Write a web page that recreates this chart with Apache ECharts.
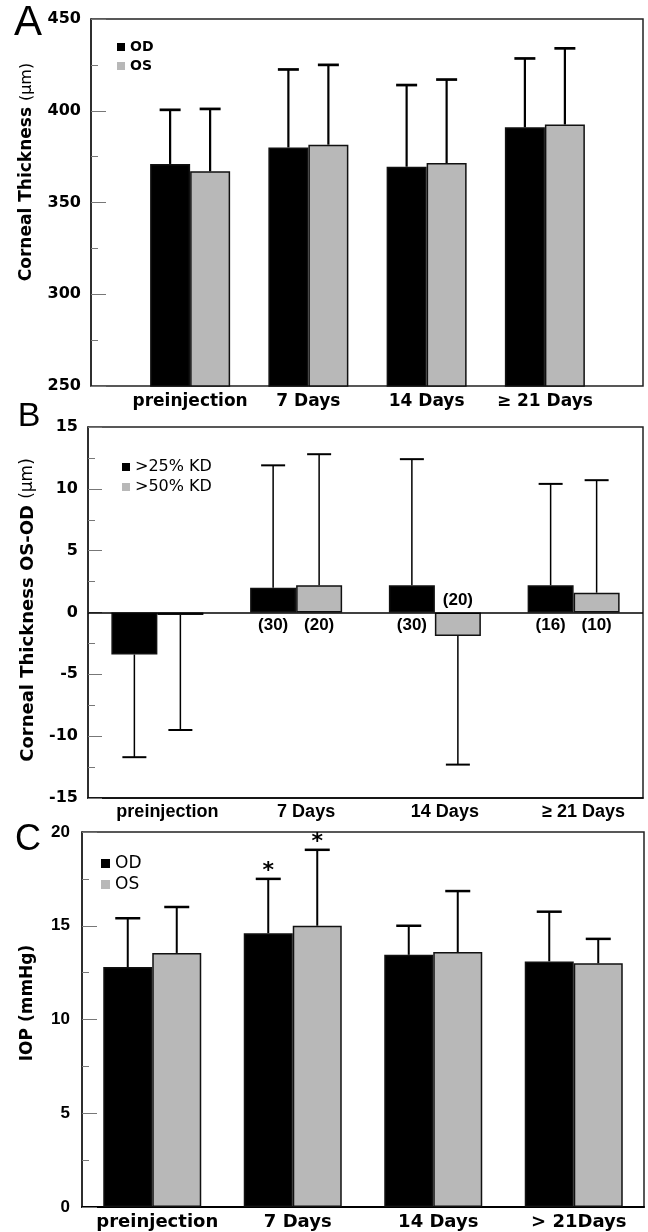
<!DOCTYPE html>
<html><head><meta charset="utf-8">
<script src="https://cdn.jsdelivr.net/npm/echarts@6/dist/echarts.min.js"></script>
<style>html,body{margin:0;padding:0;background:#fff}#c{width:648px;height:1232px}</style>
</head><body><div id="c"></div>
<script>
// ---------- Panel A : corneal thickness ----------
const catsA = ['preinjection', '7 Days', '14 Days', '≥ 21 Days'];
const odA = [371, 380, 369.5, 391];
const osA = [367, 381.5, 371.5, 392.5];
const odA_sd = [29.5, 42.5, 44.5, 37.5];
const osA_sd = [34, 43.5, 45.5, 41.5];
const ticksA = {min: 250, max: 450, interval: 50};

// ---------- Panel B : OS-OD difference ----------
const catsB = ['preinjection', '7 Days', '14 Days', '≥ 21 Days'];
const kd25B = [-3.4, 2.0, 2.2, 2.2];
const kd50B = [-0.2, 2.2, -1.9, 1.6];
const kd25B_sd = [8.3, 9.9, 10.2, 8.2];
const kd50B_sd = [9.3, 10.6, 10.4, 9.1];
const kd25B_n = [null, 30, 30, 16];
const kd50B_n = [null, 20, 20, 10];
const ticksB = {min: -15, max: 15, interval: 5};

// ---------- Panel C : IOP ----------
const catsC = ['preinjection', '7 Days', '14 Days', '> 21Days'];
const odC = [12.8, 14.6, 13.45, 13.1];
const osC = [13.55, 15.0, 13.6, 13.0];
const odC_sd = [2.6, 2.9, 1.55, 2.65];
const osC_sd = [2.45, 4.05, 3.25, 1.3];
const odC_sig = [false, true, false, false];
const osC_sig = [false, true, false, false];
const ticksC = {min: 0, max: 20, interval: 5};

const BLACK = '#000000', GREY = '#b8b8b8';
const DJ = '"DejaVu Sans"', LS = '"Liberation Sans"';

function yAxis(gi, t, show, font, labelSize, tickLen, margin) {
  return {
    type: 'value', gridIndex: gi, min: t.min, max: t.max, interval: t.interval, show: show,
    axisLine: {show: true, lineStyle: {color: '#222', width: 1.5}},
    axisTick: {show: true, inside: true, length: tickLen, lineStyle: {color: '#777', width: 1}},
    minorTick: {show: true, splitNumber: 2, length: 7, lineStyle: {color: '#777', width: 1}},
    splitLine: {show: false}, minorSplitLine: {show: false},
    axisLabel: {show: true, margin: margin, color: '#000', fontFamily: font, fontWeight: 'bold', fontSize: labelSize}
  };
}
function xAxis(gi, cats, show, font, size, margin, lineW, pad) {
  return {
    type: 'category', gridIndex: gi, data: cats, show: show,
    axisLine: {show: lineW > 0, onZero: false, lineStyle: {color: '#000', width: lineW || 1}},
    axisTick: {show: false},
    splitLine: {show: false},
    axisLabel: {show: true, interval: 0, margin: margin, color: '#000', fontFamily: font, fontWeight: 'bold', fontSize: size,
                padding: pad || 0}
  };
}
function errSeries(xi, yi, vals, sds, side, barW, capW, lw, sig) {
  return {
    type: 'custom', xAxisIndex: xi, yAxisIndex: yi, z: 6, silent: true,
    data: vals.map((v, i) => [i, v, sds[i], sig && sig[i] ? 1 : 0]),
    encode: {x: 0, y: 1},
    renderItem: function (params, api) {
      const i = api.value(0), v = api.value(1), sd = api.value(2);
      const end = v >= 0 ? v + sd : v - sd;
      const p0 = api.coord([i, v]), p1 = api.coord([i, end]);
      const x = p0[0] + side * barW / 2;
      const ch = [
        {type: 'line', shape: {x1: x, y1: p0[1], x2: x, y2: p1[1]}, style: {stroke: '#000', lineWidth: lw}},
        {type: 'line', shape: {x1: x - capW / 2, y1: p1[1], x2: x + capW / 2, y2: p1[1]}, style: {stroke: '#000', lineWidth: lw + 0.5}}
      ];
      if (api.value(3)) {
        ch.push({type: 'text', x: x, y: p1[1] + 3, style: {text: '*', font: 'bold 22px ' + DJ, fill: '#000', align: 'center', verticalAlign: 'bottom'}});
      }
      return {type: 'group', children: ch};
    }
  };
}
function barSeries(name, xi, yi, data, color, w) {
  return {
    type: 'bar', name: name, xAxisIndex: xi, yAxisIndex: yi, data: data, barWidth: w, barGap: '0%',
    itemStyle: {color: color, borderColor: '#111', borderWidth: 1.5}, z: 3, silent: true
  };
}
function countLabels(vals, ns) {
  return vals.map((v, i) => ({
    value: v,
    label: {
      show: ns[i] != null, position: v >= 0 ? 'bottom' : 'top', distance: 4,
      formatter: ns[i] != null ? '(' + ns[i] + ')' : '',
      color: '#000', fontFamily: LS, fontWeight: 'bold', fontSize: 17
    }
  }));
}

const gridBase = {show: true, borderColor: '#222', borderWidth: 1.5, backgroundColor: 'transparent', containLabel: false, outerBoundsMode: 'none'};

const option = {
  animation: false,
  backgroundColor: '#fff',
  grid: [
    Object.assign({}, gridBase, {left: 91, top: 19, width: 552, height: 367}),
    {show: false, left: 131, top: 19, width: 473, height: 367, containLabel: false, outerBoundsMode: 'none'},
    Object.assign({}, gridBase, {left: 88, top: 427, width: 555, height: 371}),
    Object.assign({}, gridBase, {left: 82, top: 832, width: 562, height: 375})
  ],
  xAxis: [
    xAxis(0, catsA, false, DJ, 17, 7, 0),
    xAxis(1, catsA, true, DJ, 17, 7, 0),
    xAxis(2, catsB, true, LS, 18, 5, 1.5, [0, 0, 0, 20]),
    xAxis(3, catsC, true, DJ, 18, 6, 2, [0, 0, 0, 10])
  ],
  yAxis: [
    yAxis(0, ticksA, true, DJ, 16, 15, 10),
    Object.assign(yAxis(1, ticksA, false, DJ, 16, 15, 10), {show: false}),
    yAxis(2, ticksB, true, DJ, 16, 14, 10),
    yAxis(3, ticksC, true, LS, 17, 15, 12)
  ],
  legend: [
    {data: ['OD', 'OS'], orient: 'vertical', left: 117, top: 40, padding: 0, itemGap: 5, icon: 'rect', itemWidth: 8, itemHeight: 8,
     itemStyle: {borderWidth: 0}, selectedMode: false,
     textStyle: {color: '#000', fontFamily: DJ, fontWeight: 'bold', fontSize: 14}},
    {data: ['>25% KD', '>50% KD'], orient: 'vertical', left: 122, top: 459, padding: 0, itemGap: 4, icon: 'rect', itemWidth: 8, itemHeight: 8,
     itemStyle: {borderWidth: 0}, selectedMode: false,
     textStyle: {color: '#000', fontFamily: DJ, fontSize: 16}},
    {data: ['OD', 'OS'], orient: 'vertical', left: 101, top: 855, padding: 0, itemGap: 4, icon: 'rect', itemWidth: 9, itemHeight: 9,
     itemStyle: {borderWidth: 0}, selectedMode: false,
     textStyle: {color: '#000', fontFamily: DJ, fontSize: 17}}
  ],
  graphic: [
    {type: 'text', x: 28, y: 23, style: {text: 'A', font: '42px ' + LS, fill: '#000', align: 'center', verticalAlign: 'middle'}},
    {type: 'text', x: 29, y: 417, style: {text: 'B', font: '34px ' + LS, fill: '#000', align: 'center', verticalAlign: 'middle'}},
    {type: 'text', x: 28, y: 840, style: {text: 'C', font: '36px ' + LS, fill: '#000', align: 'center', verticalAlign: 'middle'}},
    {type: 'text', x: 27, y: 172, rotation: Math.PI / 2,
     style: {text: '{b|Corneal Thickness }{r|(μm)}', align: 'center', verticalAlign: 'middle', fill: '#000',
             rich: {b: {font: 'bold 17px ' + DJ, fill: '#000'}, r: {font: '16px ' + DJ, fill: '#000'}}}},
    {type: 'text', x: 28, y: 610, rotation: Math.PI / 2,
     style: {text: '{b|Corneal Thickness OS-OD }{r|(μm)}', align: 'center', verticalAlign: 'middle', fill: '#000',
             rich: {b: {font: 'bold 18px ' + DJ, fill: '#000'}, r: {font: '17px ' + DJ, fill: '#000'}}}},
    {type: 'text', x: 28, y: 1003, rotation: Math.PI / 2,
     style: {text: 'IOP (mmHg)', font: 'bold 17px ' + DJ, fill: '#000', align: 'center', verticalAlign: 'middle'}}
  ],
  series: [
    barSeries('OD', 1, 1, odA, BLACK, 40),
    barSeries('OS', 1, 1, osA, GREY, 40),
    errSeries(1, 1, odA, odA_sd, -1, 40, 21, 2.2),
    errSeries(1, 1, osA, osA_sd, 1, 40, 21, 2.2),

    Object.assign(barSeries('>25% KD', 2, 2, countLabels(kd25B, kd25B_n), BLACK, 46), {
      markLine: {silent: true, symbol: 'none', label: {show: false}, lineStyle: {color: '#000', width: 1.5, type: 'solid'}, data: [{yAxis: 0}]}
    }),
    barSeries('>50% KD', 2, 2, countLabels(kd50B, kd50B_n), GREY, 46),
    errSeries(2, 2, kd25B, kd25B_sd, -1, 46, 24, 1.5),
    errSeries(2, 2, kd50B, kd50B_sd, 1, 46, 24, 1.5),

    barSeries('OD', 3, 3, odC, BLACK, 49),
    barSeries('OS', 3, 3, osC, GREY, 49),
    errSeries(3, 3, odC, odC_sd, -1, 49, 25, 2, odC_sig),
    errSeries(3, 3, osC, osC_sd, 1, 49, 25, 2, osC_sig)
  ]
};
const chart = echarts.init(document.getElementById('c'), null, {renderer: 'canvas'});
chart.setOption(option);
</script>
</body></html>
